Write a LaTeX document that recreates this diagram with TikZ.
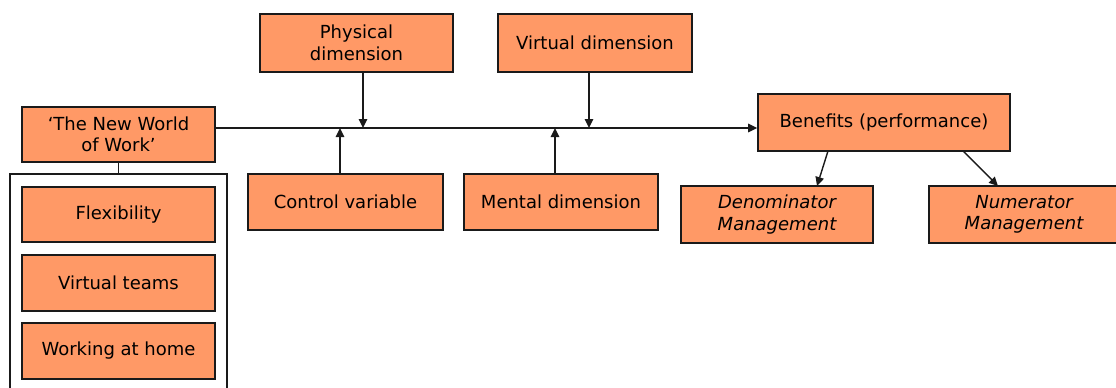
\documentclass[tikz,border=0pt]{standalone}
\usepackage{fontspec}
\setmainfont{DejaVu Sans}
\usetikzlibrary{arrows.meta}
\definecolor{boxfill}{HTML}{FF9966}
\definecolor{edge}{HTML}{1A1A1A}
\begin{document}
\begin{tikzpicture}[x=1pt,y=-1pt,
  box/.style={draw=edge, line width=1.6pt, fill=boxfill, inner sep=0pt,
    align=center, font=\fontsize{18}{21.5}\selectfont},
  itbox/.style={box, font=\fontsize{18}{21.5}\selectfont\itshape},
  link/.style={draw=edge, line width=1.4pt},
  arr/.style={link, -{Triangle[length=9pt,width=8.5pt]}},
]
\useasboundingbox (0,0) rectangle (1116,388);

% source box and its three components
\node[box, minimum width=193pt, minimum height=55pt] (nww) at (118.5,134.5) {`The New World\\of Work'};
\node[box, minimum width=193pt, minimum height=55pt] (flex) at (118.5,214.5) {Flexibility};
\node[box, minimum width=193pt, minimum height=56pt] (team) at (118.5,283) {Virtual teams};
\node[box, minimum width=193pt, minimum height=56pt] (home) at (118.5,351) {Working at home};

% open frame holding the components
\coordinate (frameL) at (10,392);
\coordinate (frameR) at (227,392);
\coordinate (frameTop) at (118.5,174);
\draw[link] (frameL) -- (frameL |- frameTop) -- (frameR |- frameTop) -- (frameR);
\draw[link] (nww.south) -- (frameTop);

% moderators above and below the main line
\node[box, minimum width=193pt, minimum height=58pt] (phys) at (356.5,43) {Physical\\dimension};
\node[box, minimum width=194pt, minimum height=58pt] (virt) at (595,43) {Virtual dimension};
\node[box, minimum width=195pt, minimum height=56pt] (ctrl) at (345.5,202) {Control variable};
\node[box, minimum width=194pt, minimum height=56pt] (ment) at (561,202) {Mental dimension};

% outcome and its two parts
\node[box, minimum width=252pt, minimum height=57pt] (ben) at (884,122.5) {Benefits (performance)};
\node[itbox, minimum width=192pt, minimum height=57pt] (den) at (777,214.5) {Denominator\\Management};
\node[itbox, minimum width=190pt, minimum height=57pt] (num) at (1024,214.5) {Numerator\\Management};

% main line and the points where moderators meet it
\coordinate (jc) at (340,128);
\coordinate (jp) at (363,128);
\coordinate (jm) at (555,128);
\coordinate (jv) at (589,128);
\draw[arr] (nww.east |- jp) -- (ben.west |- jp);
\draw[arr] (phys.south -| jp) -- (jp);
\draw[arr] (virt.south -| jv) -- (jv);
\draw[arr] (ctrl.north -| jc) -- (jc);
\draw[arr] (ment.north -| jm) -- (jm);

% outcome split
\coordinate (bd) at (828,151);
\coordinate (bn) at (963,151);
\coordinate (dd) at (817,186);
\coordinate (nn) at (998,186);
\draw[arr] (bd) -- (dd);
\draw[arr] (bn) -- (nn);
\end{tikzpicture}
\end{document}
